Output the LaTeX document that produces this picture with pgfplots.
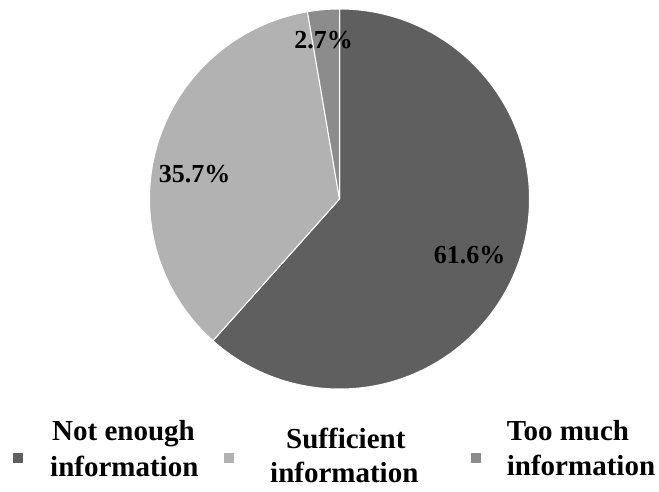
\documentclass[border=0pt]{standalone}
\usepackage{pgfplots}
\pgfplotsset{compat=1.18}
\usepackage{fontspec}
\setmainfont{Liberation Serif}
\definecolor{cNot}{HTML}{5F5F5F}
\definecolor{cSuf}{HTML}{B2B2B2}
\definecolor{cToo}{HTML}{8C8C8C}
% data (percent)
\def\vNot{61.6}
\def\vSuf{35.7}
\def\vToo{2.7}
\pgfmathsetmacro{\aA}{90}
\pgfmathsetmacro{\aB}{\aA-3.6*\vNot}
\pgfmathsetmacro{\aC}{\aB-3.6*\vSuf}
\pgfmathsetmacro{\aD}{\aC-3.6*\vToo}
\def\cx{339.5}
\def\cy{292}
\def\rr{190}
\begin{document}
\begin{tikzpicture}
\begin{axis}[width=659pt,height=491pt,scale only axis,
  xmin=0,xmax=659,ymin=0,ymax=491,hide axis,clip=false]
\path (axis cs:0,0) rectangle (axis cs:659,491);
\filldraw[fill=cNot,draw=white,line width=1pt] (axis cs:\cx,\cy) -- ++(\aA:\rr pt) arc[start angle=\aA,end angle=\aB,radius=\rr pt] -- cycle;
\filldraw[fill=cSuf,draw=white,line width=1pt] (axis cs:\cx,\cy) -- ++(\aB:\rr pt) arc[start angle=\aB,end angle=\aC,radius=\rr pt] -- cycle;
\filldraw[fill=cToo,draw=white,line width=1pt] (axis cs:\cx,\cy) -- ++(\aC:\rr pt) arc[start angle=\aC,end angle=\aD,radius=\rr pt] -- cycle;
\node[font=\fontsize{26}{28}\selectfont\bfseries] at (axis cs:469.5,236) {\vNot\%};
\node[font=\fontsize{26}{28}\selectfont\bfseries] at (axis cs:194.5,317) {\vSuf\%};
\node[font=\fontsize{26}{28}\selectfont\bfseries] at (axis cs:323.5,451) {\vToo\%};
% legend
\fill[cNot] (axis cs:12.5,28.5) rectangle (axis cs:22.5,38.5);
\fill[cSuf] (axis cs:223.5,28.5) rectangle (axis cs:233.5,38.5);
\fill[cToo] (axis cs:471,28.5) rectangle (axis cs:481,38.5);
\begin{scope}[every node/.style={font=\fontsize{29}{32}\selectfont\bfseries,anchor=base west,inner sep=0pt}]
\node at (axis cs:52,50.3) {Not enough};
\node at (axis cs:50,15) {information};
\node at (axis cs:286,43) {Sufficient};
\node at (axis cs:270,8.3) {information};
\node at (axis cs:506.7,50.3) {Too much};
\node at (axis cs:506.7,15.3) {information};
\end{scope}
\end{axis}
\end{tikzpicture}
\end{document}
